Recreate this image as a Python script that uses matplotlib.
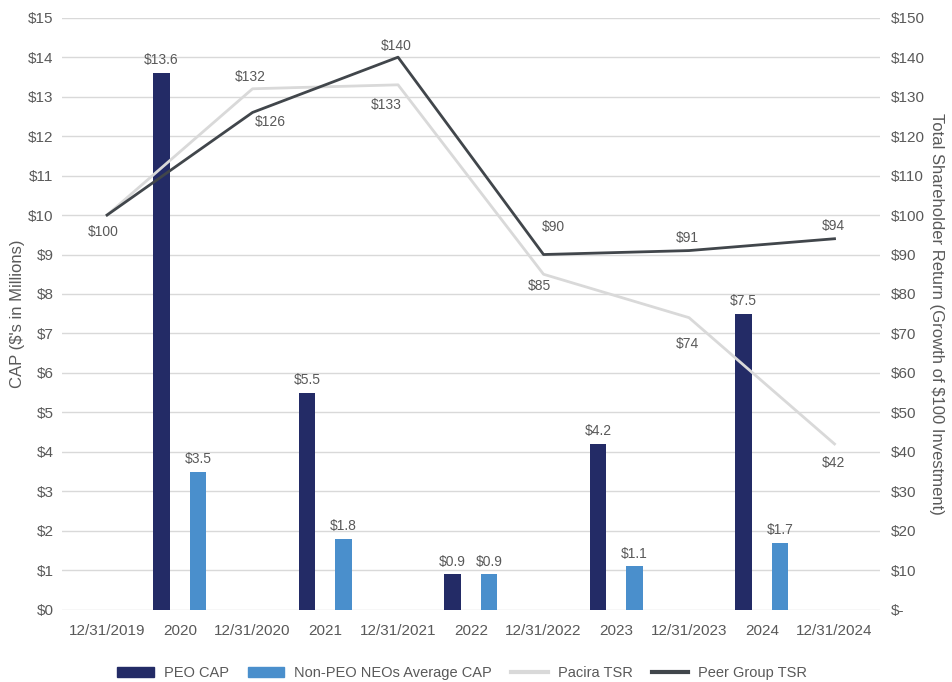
import numpy as np
import matplotlib.pyplot as plt
from matplotlib.lines import Line2D
from matplotlib.patches import Patch

plt.rcParams['font.family'] = ['Liberation Sans', 'DejaVu Sans']

categories = ["12/31/2019", "2020", "12/31/2020", "2021", "12/31/2021", "2022",
              "12/31/2022", "2023", "12/31/2023", "2024", "12/31/2024"]
years = ["2020", "2021", "2022", "2023", "2024"]
peo_cap = [13.6, 5.5, 0.9, 4.2, 7.5]
non_peo_cap = [3.5, 1.8, 0.9, 1.1, 1.7]
dates = ["12/31/2019", "12/31/2020", "12/31/2021", "12/31/2022", "12/31/2023", "12/31/2024"]
pacira_tsr = [100, 132, 133, 85, 74, 42]
peer_tsr = [100, 126, 140, 90, 91, 94]

c_peo = "#232b66"
c_non = "#4a8fcc"
c_pacira = "#d9d9d9"
c_peer = "#41464b"
txt = "#595959"

fig = plt.figure(figsize=(9.53, 6.82), dpi=100)
ax = fig.add_axes([0.065, 0.106, 0.858, 0.868])
ax2 = ax.twinx()

xpos = {c: i for i, c in enumerate(categories)}
yx = np.array([xpos[y] for y in years])
dx = np.array([xpos[d] for d in dates])

w = 0.23
b1 = ax.bar(yx - 0.25, peo_cap, w, color=c_peo, zorder=2)
b2 = ax.bar(yx + 0.25, non_peo_cap, w, color=c_non, zorder=2)
for bars, vals in [(b1, peo_cap), (b2, non_peo_cap)]:
    for b, v in zip(bars, vals):
        ax.annotate(f"${v}", (b.get_x() + b.get_width() / 2, v), xytext=(0, 4),
                    textcoords="offset points", ha="center", va="bottom",
                    fontsize=10, color=txt)

ax2.plot(dx, pacira_tsr, color=c_pacira, lw=2, zorder=3)
ax2.plot(dx, peer_tsr, color=c_peer, lw=2, zorder=4)

# label centre offsets in pixels
pac_off = [None, (-2, 12), (-12, -20), (-4, -12), (-2, -26), (-1, -19)]
peer_off = [(-4, -17), (18, -10), (-2, 11), (10, 28), (-2, 13), (-1, 13)]
px = 0.72
for vals, offs in [(pacira_tsr, pac_off), (peer_tsr, peer_off)]:
    for x, v, off in zip(dx, vals, offs):
        if off is None:
            continue
        ax2.annotate(f"${v}", (x, v), xytext=(off[0] * px, off[1] * px),
                     textcoords="offset points", ha="center", va="center",
                     fontsize=10, color=txt)

ax.set_xlim(-0.62, 10.62)
ax.set_ylim(0, 15)
ax2.set_ylim(0, 150)
ax.set_yticks(range(0, 16))
ax.set_yticklabels([f"${i}" for i in range(0, 16)])
ax2.set_yticks(range(0, 151, 10))
ax2.set_yticklabels(["$-"] + [f"${i}" for i in range(10, 151, 10)])
ax.set_xticks(range(len(categories)))
ax.set_xticklabels(categories)

ax.grid(axis="y", color="#d9d9d9", lw=1, zorder=0)
ax.set_axisbelow(True)
for a in (ax, ax2):
    for s in a.spines.values():
        s.set_visible(False)
    a.tick_params(length=0, labelsize=11, colors=txt)
ax.tick_params(axis="x", pad=10)
ax.tick_params(axis="y", pad=6)
ax2.tick_params(axis="y", pad=8)

ax.set_ylabel("CAP ($'s in Millions)", fontsize=12, color=txt, labelpad=2)
ax2.set_ylabel("Total Shareholder Return (Growth of $100 Investment)", fontsize=12,
               color=txt, rotation=270, labelpad=14)

handles = [Patch(color=c_peo), Patch(color=c_non),
           Line2D([], [], color=c_pacira, lw=3), Line2D([], [], color=c_peer, lw=3)]
labels = ["PEO CAP", "Non-PEO NEOs Average CAP", "Pacira TSR", "Peer Group TSR"]
fig.legend(handles, labels, loc="lower center", bbox_to_anchor=(0.485, -0.016), ncol=4,
           frameon=False, fontsize=10.5, labelcolor=txt, handlelength=2.5,
           columnspacing=1.3, handletextpad=0.7)

fig.savefig("out.png", dpi=100)
